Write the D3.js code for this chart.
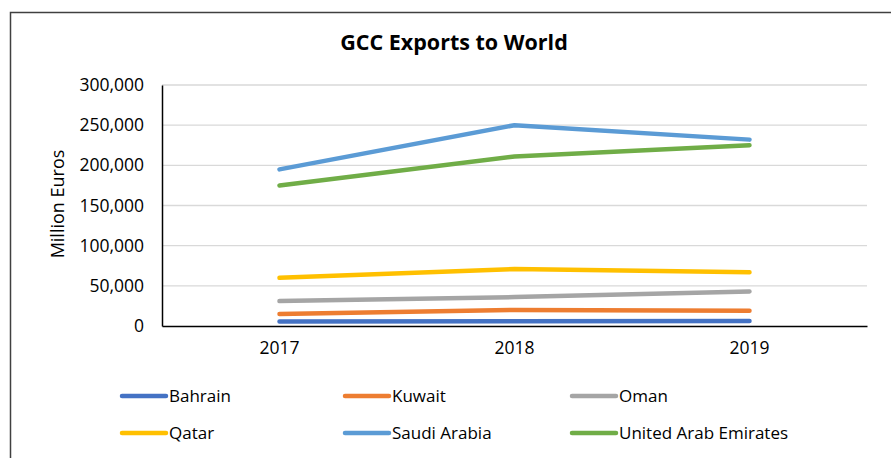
<!DOCTYPE html>
<html>
<head>
<meta charset="utf-8">
<script src="https://cdn.jsdelivr.net/npm/d3@7"></script>
<style>
  body { margin: 0; background: #fff; }
  text { font-family: "Open Sans", sans-serif; fill: #000; }
</style>
</head>
<body>
<svg id="chart" width="891" height="458"></svg>
<script>
// data (million euros)
var years = ['2017', '2018', '2019'];
var countries = ['Bahrain', 'Kuwait', 'Oman', 'Qatar', 'Saudi Arabia', 'United Arab Emirates'];
var colors = ['#4472C4', '#ED7D31', '#A5A5A5', '#FFC000', '#5B9BD5', '#70AD47'];
var bahrain = [5600, 6000, 6200];
var kuwait = [15000, 20000, 19000];
var oman = [31000, 36000, 43000];
var qatar = [60000, 71000, 67000];
var saudi = [195000, 250000, 232000];
var uae = [175000, 211000, 225000];
var yTicks = [0, 50000, 100000, 150000, 200000, 250000, 300000];

var series = [bahrain, kuwait, oman, qatar, saudi, uae];

var svg = d3.select('#chart');

// outer chart frame
svg.append('path')
  .attr('d', 'M10.5,458 L10.5,12.5 L891,12.5')
  .attr('fill', 'none')
  .attr('stroke', '#404040')
  .attr('stroke-width', 1.5);

var x = d3.scaleBand().domain(years).range([162, 867]);
var y = d3.scaleLinear().domain([0, 300000]).range([326, 85]);

// gridlines
svg.append('g')
  .selectAll('line')
  .data(yTicks.slice(1))
  .join('line')
  .attr('x1', 162).attr('x2', 867)
  .attr('y1', function(d) { return y(d); })
  .attr('y2', function(d) { return y(d); })
  .attr('stroke', '#d9d9d9')
  .attr('stroke-width', 1.3);

// y axis
var yAxis = svg.append('g')
  .attr('transform', 'translate(162,0)')
  .call(d3.axisLeft(y).tickValues(yTicks).tickSize(0).tickPadding(18).tickFormat(d3.format(',')));
yAxis.select('.domain').attr('stroke', '#000').attr('stroke-width', 1.5);
yAxis.selectAll('text').style('font-size', '17.5px');

// x axis
var xAxis = svg.append('g')
  .attr('transform', 'translate(0,326)')
  .call(d3.axisBottom(x).tickSize(0).tickPadding(16));
xAxis.select('.domain').attr('stroke', '#000').attr('stroke-width', 1.5);
xAxis.selectAll('text').style('font-size', '17.5px');

// lines
var line = d3.line()
  .x(function(d, i) { return x(years[i]) + x.bandwidth() / 2; })
  .y(function(d) { return y(d); });

svg.append('g')
  .selectAll('path')
  .data(series)
  .join('path')
  .attr('d', line)
  .attr('fill', 'none')
  .attr('stroke', function(d, i) { return colors[i]; })
  .attr('stroke-width', 4.5)
  .attr('stroke-linecap', 'round')
  .attr('stroke-linejoin', 'round');

// title
svg.append('text')
  .attr('x', 454).attr('y', 50)
  .attr('text-anchor', 'middle')
  .style('font-size', '21.5px')
  .style('font-weight', 'bold')
  .text('GCC Exports to World');

// y axis label
svg.append('text')
  .attr('transform', 'translate(64,204) rotate(-90)')
  .attr('text-anchor', 'middle')
  .style('font-size', '18px')
  .text('Million Euros');

// legend
var legX = [122, 345, 572];
var legY = [396, 433];
var leg = svg.append('g')
  .selectAll('g')
  .data(countries)
  .join('g')
  .attr('transform', function(d, i) { return 'translate(' + legX[i % 3] + ',' + legY[Math.floor(i / 3)] + ')'; });
leg.append('line')
  .attr('x1', 0).attr('x2', 44)
  .attr('stroke', function(d, i) { return colors[i]; })
  .attr('stroke-width', 4.5)
  .attr('stroke-linecap', 'round');
leg.append('text')
  .attr('x', 47).attr('y', 6)
  .style('font-size', '17px')
  .text(function(d) { return d; });
</script>
</body>
</html>
